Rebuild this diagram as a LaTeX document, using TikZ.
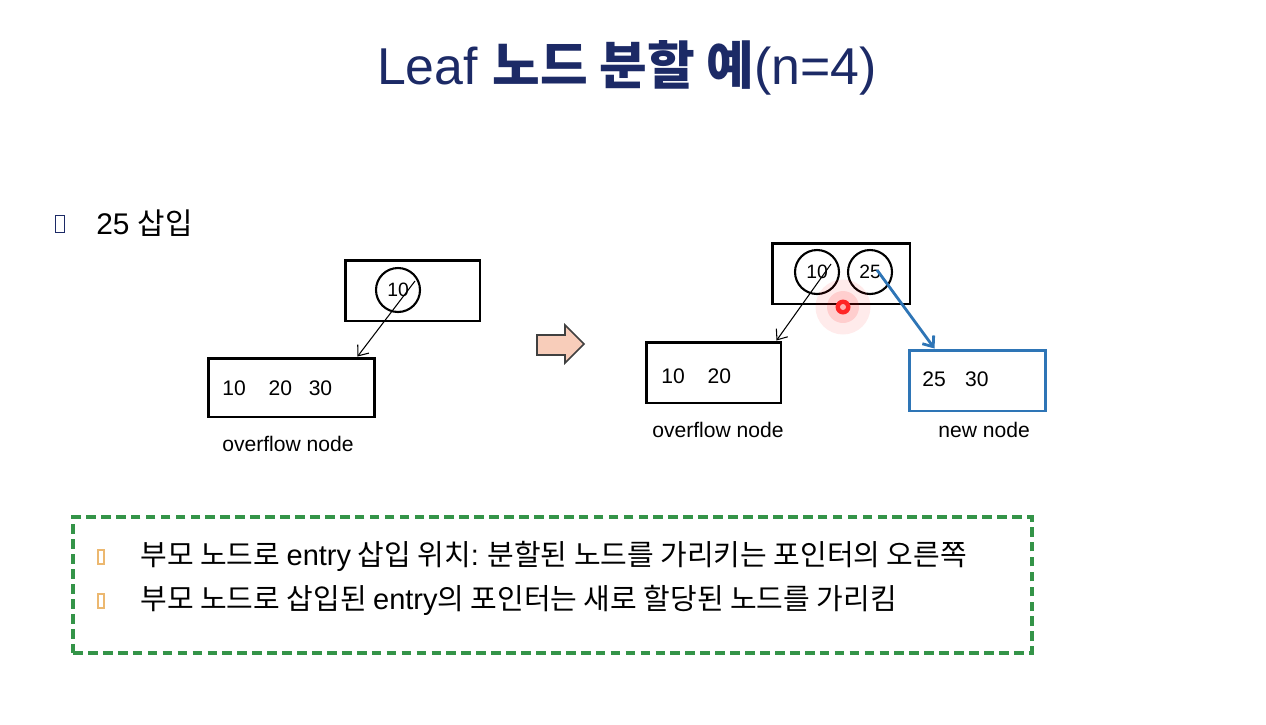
\documentclass[tikz,border=0pt]{standalone}
\usepackage{fontspec}
\setmainfont{Liberation Sans}
\newfontfamily\kr{Noto Sans CJK KR}
\usetikzlibrary{arrows.meta}
\definecolor{titlenavy}{RGB}{28,42,102}
\definecolor{ptrblue}{RGB}{46,117,182}
\definecolor{notegreen}{RGB}{52,148,72}
\definecolor{peach}{RGB}{248,205,186}
\definecolor{bulletorange}{RGB}{236,184,112}

\begin{document}
\begin{tikzpicture}[x=0.02cm, y=-0.02cm]
% Styles
\tikzset{
    keybox/.style={draw, line width=1.7pt, inner sep=0pt},
    keycirc/.style={draw, circle, line width=1.2pt, minimum size=0.88cm, inner sep=0pt, font=\fontsize{11}{13}\selectfont},
    keys/.style={anchor=west, inner sep=0pt, font=\fontsize{12}{14}\selectfont},
    caption/.style={anchor=west, inner sep=0pt, font=\fontsize{12}{14}\selectfont},
    ptr/.style={-{Straight Barb[length=5pt, width=8pt]}, line width=0.6pt},
    noteframe/.style={draw=notegreen, dash pattern=on 5.5pt off 3pt, line width=2.2pt, inner sep=0pt},
    notetext/.style={anchor=west, inner sep=0pt, font=\fontsize{16.5}{19}\selectfont\kr}
}
\useasboundingbox (0,0) rectangle (1266,724);

% Title
\node[text=titlenavy, font=\fontsize{29.5}{34}\selectfont] (title) at (627,68)
    {Leaf {\kr\bfseries 노드 분할 예}(n=4)};

\node[draw=titlenavy, line width=0.9pt, minimum width=0.18cm, minimum height=0.34cm, inner sep=0pt] (blt0) at (60,224) {};
\node[anchor=west, inner sep=0pt, font=\fontsize{17}{20}\selectfont] (step0) at (96,223) {25 {\kr 삽입}};

% Nodes (before split)
\node[keybox, minimum width=2.7cm, minimum height=1.22cm] (root1) at (412.5,290.5) {};
\node[keycirc] (k10a) at (398,290) {10};
\node[keybox, minimum width=3.34cm, minimum height=1.18cm] (ovf1) at (291.5,387.5) {};
\node[keys] (ovf1keys) at (222,388) {10\hspace{13pt}20\hspace{9.5pt}30};
\node[caption] (ovf1cap) at (222,444) {overflow node};

% Block arrow
\draw[fill=peach, line width=0.9pt, draw=black!75] (537,335) -- (565,335) -- (565,325) -- (584,344)
    -- (565,363) -- (565,355) -- (537,355) -- cycle;

% Nodes (after split)
\node[keybox, minimum width=2.76cm, minimum height=1.22cm] (root2) at (841,273.5) {};
\node[keycirc] (k10b) at (817,272) {10};
\node[keycirc] (k25b) at (870,272) {25};
\node[keybox, minimum width=2.7cm, minimum height=1.22cm] (ovf2) at (713.5,372.5) {};
\node[keys] (ovf2keys) at (661,376) {10\hspace{13pt}20};
\node[caption] (ovf2cap) at (652,430) {overflow node};
\node[keybox, draw=ptrblue, minimum width=2.72cm, minimum height=1.22cm] (new2) at (977,380.5) {};
\node[keys] (new2keys) at (922,379) {25\hspace{11pt}30};
\node[caption] (new2cap) at (938,430) {new node};

% Connections
\coordinate (ptr1) at (415,281);
\coordinate (ptr2) at (831,264);
\coordinate (ptr3) at (877,270);
\draw[ptr] (ptr1) -- ([xshift=-0.38cm]ovf1.north east);
\draw[ptr] (ptr2) -- ([xshift=-0.12cm]ovf2.north east);
\draw[ptr, draw=ptrblue, line width=1.6pt] (ptr3) -- ([xshift=0.54cm]new2.north west);

% Pointer mark
\fill[red, opacity=0.08] (843,307) circle[radius=0.55cm];
\fill[red, opacity=0.12] (843,307) circle[radius=0.32cm];
\fill[red!85!white] (843,307) circle[radius=0.15cm];
\fill[red!30!white] (843,307) circle[radius=0.06cm];

% Note
\node[noteframe, minimum width=19.18cm, minimum height=2.72cm] (notebox) at (552.5,585) {};
\node[draw=bulletorange, line width=0.8pt, minimum width=0.12cm, minimum height=0.28cm, inner sep=0pt] (blt1) at (101,557) {};
\node[draw=bulletorange, line width=0.8pt, minimum width=0.12cm, minimum height=0.28cm, inner sep=0pt] (blt2) at (101,601) {};
\node[notetext] (note1) at (140,556) {부모 노드로 {\rmfamily entry} 삽입 위치{\rmfamily :} 분할된 노드를 가리키는 포인터의 오른쪽};
\node[notetext] (note2) at (140,600) {부모 노드로 삽입된 {\rmfamily entry}의 포인터는 새로 할당된 노드를 가리킴};
\end{tikzpicture}
\end{document}
